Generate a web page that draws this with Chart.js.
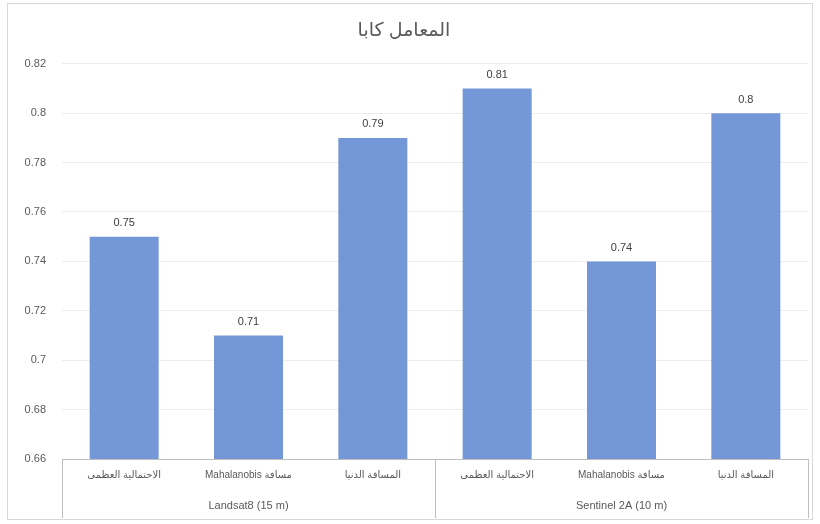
<!DOCTYPE html>
<html>
<head>
<meta charset="utf-8">
<script src="https://cdn.jsdelivr.net/npm/chart.js@4.4.1/dist/chart.umd.min.js"></script>
<style>
html,body{margin:0;padding:0;background:#fff;}
#wrap{width:820px;height:524px;position:relative;}
</style>
</head>
<body>
<div id="wrap"><canvas id="c" width="820" height="524"></canvas></div>
<script>
const chartTitle = "المعامل كابا";
const methods = ["الاحتمالية العظمى", "مسافة Mahalanobis", "المسافة الدنيا"];
const groups = ["Landsat8 (15 m)", "Sentinel 2A (10 m)"];
const categories = [methods[0], methods[1], methods[2], methods[0], methods[1], methods[2]];
const kappaValues = [0.75, 0.71, 0.79, 0.81, 0.74, 0.80];
const yMin = 0.66, yMax = 0.82, yStep = 0.02;

const FONT = "'Liberation Sans', 'DejaVu Sans', 'Noto Sans', sans-serif";
const TXT = "#595959";

const framePlugin = {
  id: 'frame',
  beforeDraw(chart) {
    const ctx = chart.ctx;
    ctx.save();
    ctx.strokeStyle = '#d9d9d9';
    ctx.lineWidth = 1;
    ctx.strokeRect(7.5, 3.5, 805, 516);
    ctx.restore();
  }
};

const valueLabels = {
  id: 'valueLabels',
  afterDatasetsDraw(chart) {
    const ctx = chart.ctx;
    const meta = chart.getDatasetMeta(0);
    ctx.save();
    ctx.font = "11px " + FONT;
    ctx.fillStyle = "#404040";
    ctx.textAlign = 'center';
    ctx.textBaseline = 'bottom';
    meta.data.forEach((bar, i) => {
      ctx.fillText(String(kappaValues[i]), bar.x, bar.y - 8);
    });
    ctx.restore();
  }
};

const groupSeparators = {
  id: 'groupSeparators',
  afterDraw(chart) {
    const x = chart.scales.x;
    const g = chart.scales.xg;
    const ctx = chart.ctx;
    const per = methods.length;
    const xs = [chart.chartArea.left];
    for (let k = 1; k < groups.length; k++) {
      xs.push((x.getPixelForValue(k * per - 1) + x.getPixelForValue(k * per)) / 2);
    }
    xs.push(chart.chartArea.right);
    ctx.save();
    ctx.strokeStyle = '#bfbfbf';
    ctx.lineWidth = 1;
    xs.forEach(px => {
      const xx = Math.round(px) + 0.5;
      ctx.beginPath();
      ctx.moveTo(xx, chart.chartArea.bottom);
      ctx.lineTo(xx, g.bottom);
      ctx.stroke();
    });
    ctx.restore();
  }
};

new Chart(document.getElementById('c'), {
  type: 'bar',
  data: {
    labels: categories,
    datasets: [{
      data: kappaValues,
      backgroundColor: '#7497d8',
      borderWidth: 0,
      barPercentage: 0.555,
      categoryPercentage: 1.0
    }]
  },
  options: {
    responsive: false,
    animation: false,
    devicePixelRatio: 1,
    layout: { padding: { top: 2, right: 12, bottom: 6, left: 0 } },
    plugins: {
      legend: { display: false },
      tooltip: { enabled: false },
      title: {
        display: true,
        text: chartTitle,
        color: TXT,
        font: { family: FONT, size: 19, weight: 'normal' },
        padding: { top: 17, bottom: 22 }
      }
    },
    scales: {
      y: {
        min: yMin, max: yMax,
        afterFit(s) { s.width = 62; },
        ticks: {
          stepSize: yStep,
          color: TXT,
          font: { family: FONT, size: 11 },
          padding: 16,
          callback: v => String(+(+v).toFixed(2))
        },
        grid: { color: '#ededed', drawTicks: false },
        border: { display: false }
      },
      x: {
        type: 'category',
        position: 'bottom',
        afterFit(s) { s.height = 32; },
        ticks: {
          color: TXT,
          font: { family: FONT, size: 10 },
          padding: 10,
          maxRotation: 0,
          autoSkip: false,
          callback(v, i) { return '\u202B' + categories[i] + '\u202C'; }
        },
        grid: { display: false, drawTicks: false },
        border: { display: true, color: '#bfbfbf' }
      },
      xg: {
        type: 'category',
        position: 'bottom',
        labels: groups,
        offset: true,
        afterFit(s) { s.height = 27; },
        ticks: {
          color: TXT,
          font: { family: FONT, size: 11 },
          padding: 8,
          maxRotation: 0,
          autoSkip: false
        },
        grid: { display: false, drawTicks: false },
        border: { display: false }
      }
    }
  },
  plugins: [framePlugin, valueLabels, groupSeparators]
});
</script>
</body>
</html>
